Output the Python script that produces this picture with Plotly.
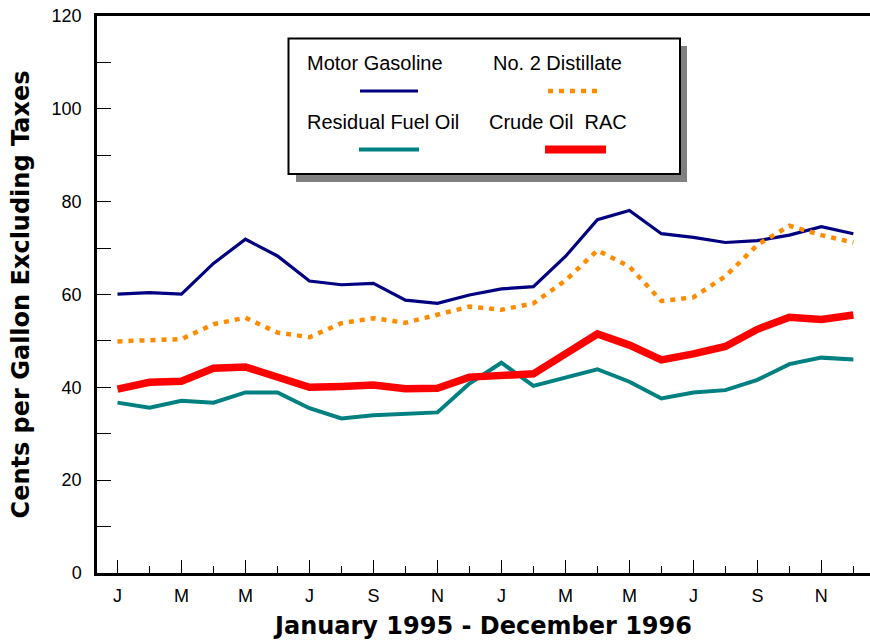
import plotly.graph_objects as go

# ---- data (cents per gallon, excluding taxes), Jan 1995 - Dec 1996 ----
month_index = list(range(24))
month_letters = ["J", "F", "M", "A", "M", "J", "J", "A", "S", "O", "N", "D"] * 2

motor_gasoline = [60.1, 60.4, 60.1, 66.7, 71.9, 68.3, 62.9, 62.1, 62.4, 58.8, 58.1, 59.9,
                  61.2, 61.7, 68.2, 76.1, 78.1, 73.1, 72.3, 71.2, 71.6, 72.8, 74.6, 73.1]
no2_distillate = [49.9, 50.1, 50.4, 53.6, 55.0, 51.8, 50.8, 53.8, 54.9, 53.9, 55.6, 57.4,
                  56.7, 58.1, 63.0, 69.5, 66.0, 58.6, 59.4, 63.9, 70.7, 74.8, 72.8, 71.2]
residual_fuel_oil = [36.7, 35.6, 37.1, 36.7, 38.9, 38.9, 35.5, 33.3, 34.0, 34.3, 34.6, 40.8,
                     45.3, 40.3, 42.2, 43.9, 41.2, 37.6, 38.9, 39.4, 41.6, 45.0, 46.4, 46.0]
crude_oil_rac = [39.6, 41.1, 41.3, 44.1, 44.4, 42.2, 40.0, 40.2, 40.5, 39.7, 39.8, 42.2,
                 42.6, 42.9, 47.2, 51.5, 49.1, 45.9, 47.2, 48.8, 52.5, 55.1, 54.6, 55.6]

series_names = ["Motor Gasoline", "No. 2 Distillate", "Residual Fuel Oil", "Crude Oil  RAC"]
series_colors = ["#000080", "#FF8C00", "#008080", "#FF0000"]

y_tick_values = list(range(0, 121, 10))
y_tick_labels = [str(v) if v % 20 == 0 else "" for v in y_tick_values]

FONT = "Liberation Sans, Arial, sans-serif"
TITLE_FONT = "DejaVu Sans, Liberation Sans, Arial, sans-serif"

fig = go.Figure()
fig.add_trace(go.Scatter(x=month_index, y=motor_gasoline, name=series_names[0], mode="lines",
                         line=dict(color=series_colors[0], width=3.2)))
fig.add_trace(go.Scatter(x=month_index, y=no2_distillate, name=series_names[1], mode="lines",
                         line=dict(color=series_colors[1], width=4.5, dash="5px,6px")))
fig.add_trace(go.Scatter(x=month_index, y=residual_fuel_oil, name=series_names[2], mode="lines",
                         line=dict(color=series_colors[2], width=4)))
fig.add_trace(go.Scatter(x=month_index, y=crude_oil_rac, name=series_names[3], mode="lines",
                         line=dict(color=series_colors[3], width=7.5)))

# ---- layout geometry (pixels) ----
W, H = 870, 640
L, R, T, B = 97, 0, 16, 67
PW, PH = W - L - R, H - T - B


def px(xp):
    return (xp - L) / PW


def py(yp):
    return (H - B - yp) / PH


shapes = []
# legend shadow and box
shapes.append(dict(type="rect", xref="paper", yref="paper", x0=px(296), x1=px(687),
                   y0=py(182), y1=py(46), fillcolor="#808080", line=dict(width=0), layer="above"))
shapes.append(dict(type="rect", xref="paper", yref="paper", x0=px(288.5), x1=px(680),
                   y0=py(174), y1=py(38.5), fillcolor="white",
                   line=dict(color="black", width=2), layer="above"))
# legend samples
samples = [(360, 418, 91, 3.2, "solid"), (548, 600, 91, 4.5, "5px,6px"),
           (359, 419, 149.5, 4, "solid"), (545, 606, 149.5, 8, "solid")]
for (xa, xb, yy, wd, dsh), col in zip(samples, series_colors):
    shapes.append(dict(type="line", xref="paper", yref="paper", x0=px(xa), x1=px(xb),
                       y0=py(yy), y1=py(yy), line=dict(color=col, width=wd, dash=dsh),
                       layer="above"))

annotations = []
label_pos = [(305, 63), (491, 63), (305, 122), (487, 122)]
for (xa, yy), name in zip(label_pos, series_names):
    annotations.append(dict(text=name, xref="paper", yref="paper", x=px(xa), y=py(yy),
                            xanchor="left", yanchor="middle", showarrow=False,
                            font=dict(family=FONT, size=20, color="black")))

fig.update_layout(
    width=W, height=H,
    margin=dict(l=L, r=R, t=T, b=B, pad=0),
    paper_bgcolor="white", plot_bgcolor="white",
    showlegend=False,
    shapes=shapes, annotations=annotations,
    font=dict(family=FONT, color="black"),
)

fig.update_xaxes(
    range=[-0.64, 23.52],
    tickmode="array", tickvals=month_index[::2], ticktext=month_letters[::2],
    ticks="inside", ticklen=13, tickwidth=1.2, tickcolor="black",
    minor=dict(tickmode="array", tickvals=month_index[1::2], ticks="inside",
               ticklen=7, tickwidth=1.2, tickcolor="black"),
    ticklabelstandoff=5,
    tickfont=dict(family=FONT, size=18, color="black"),
    showline=True, linecolor="black", linewidth=2.5, mirror=True,
    showgrid=False, zeroline=False,
    title=dict(text="<b>January 1995 - December 1996</b>",
               font=dict(family=TITLE_FONT, size=24, color="black"), standoff=12),
)

fig.update_yaxes(
    range=[0, 120],
    tickmode="array", tickvals=y_tick_values, ticktext=y_tick_labels,
    ticks="inside", ticklen=14, tickwidth=1.2, tickcolor="black",
    ticklabelstandoff=9,
    tickfont=dict(family=FONT, size=18, color="black"),
    showline=True, linecolor="black", linewidth=2.5, mirror=False,
    showgrid=False, zeroline=False,
    title=dict(text="<b>Cents per Gallon Excluding Taxes</b>",
               font=dict(family=TITLE_FONT, size=24, color="black"), standoff=16),
)

fig.write_html("out.html", config={"displayModeBar": False},
               post_script="document.body.style.margin='0px';")
